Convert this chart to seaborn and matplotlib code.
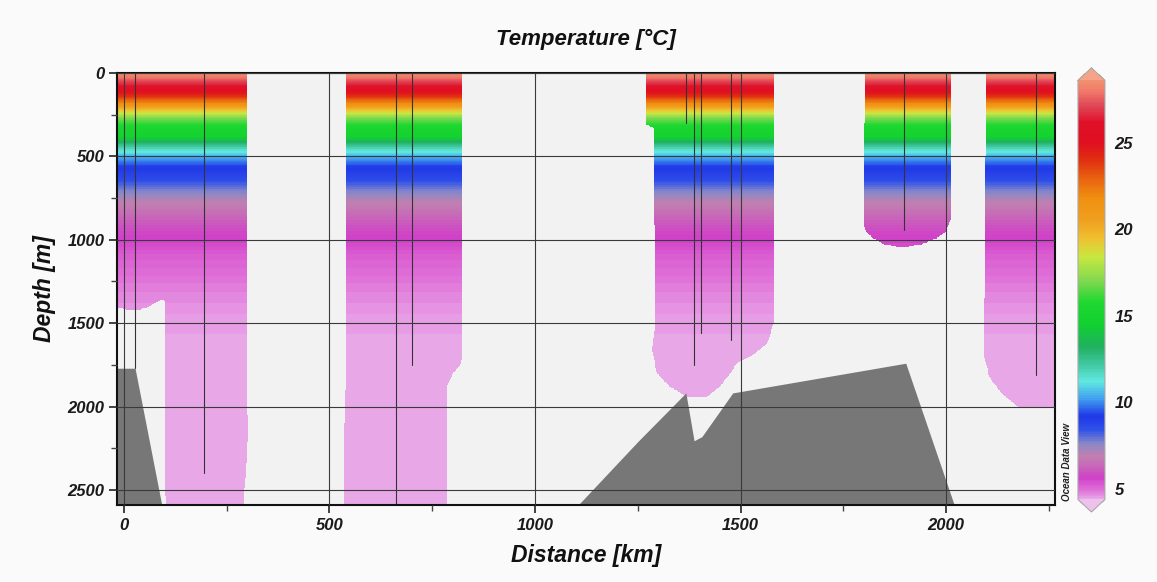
import numpy as np
import pandas as pd
import matplotlib
matplotlib.use("Agg")
import matplotlib.pyplot as plt
import seaborn as sns
from matplotlib.colors import LinearSegmentedColormap, Normalize
from matplotlib.path import Path

# ---------------- data ----------------
# mean temperature profile
profile_depth = [0, 25, 60, 100, 140, 180, 230, 270, 320, 380, 420, 460, 510,
                 560, 630, 700, 770, 850, 930, 1000, 1100, 1200, 1300, 1400,
                 1500, 2600]
profile_temp = [28.6, 28.0, 26.8, 25.5, 24.0, 22.0, 19.0, 17.0, 15.5, 14.8,
                13.0, 11.5, 10.3, 9.3, 8.7, 7.8, 7.0, 6.4, 5.9, 5.6, 5.2,
                5.0, 4.8, 4.65, 4.5, 4.4]

# data-coverage outlines of the gridded section (distance km, depth m)
block1_km = [-20, 299, 299, 301, 297, 290, 103, 100, 100, 95, 80, 60, 35, 15, -20]
block1_m = [0, 0, 1950, 2150, 2400, 2600, 2600, 2400, 1370, 1355, 1370, 1400, 1420, 1420, 1405]
block2_km = [540, 822, 822, 815, 800, 788, 786, 535, 536, 540]
block2_m = [0, 0, 1720, 1760, 1800, 1870, 2600, 2600, 2100, 1700]
block3_km = [1272, 1580, 1580, 1565, 1530, 1490, 1475, 1450, 1418, 1370, 1328,
             1297, 1285, 1292, 1288, 1272]
block3_m = [0, 0, 1500, 1620, 1690, 1740, 1800, 1880, 1940, 1940, 1880, 1800,
            1660, 1500, 330, 310]
block4_km = [1803, 2010, 2010, 2000, 1978, 1940, 1895, 1850, 1822, 1805, 1800]
block4_m = [0, 0, 880, 950, 990, 1030, 1045, 1030, 990, 950, 900]
block5_km = [2097, 2270, 2270, 2175, 2135, 2105, 2093, 2095]
block5_m = [0, 0, 2010, 2000, 1920, 1820, 1700, 1000]

# station casts
station_km = [27, 195, 662, 700, 1367, 1387, 1404, 1477, 1898, 2219]
station_bottom_m = [1770, 2400, 2590, 1750, 300, 1750, 1560, 1600, 940, 1810]

# bathymetry
bathy1_km = [-20, 27, 92]
bathy1_m = [1770, 1770, 2590]
bathy2_km = [1105, 1250, 1367, 1387, 1406, 1481, 1902, 2020]
bathy2_m = [2590, 2210, 1918, 2205, 2180, 1918, 1740, 2590]

# colour scale anchors
cmap_values = [4.4, 4.9, 5.6, 6.3, 6.9, 7.6, 8.4, 9.2, 10.2, 11.2, 12.2, 13.2,
               14.5, 15.8, 17.0, 18.4, 19.5, 20.5, 21.8, 23.0, 24.0, 25.0,
               26.2, 27.2, 28.0, 28.6]
cmap_colors = ['#e8a8e8', '#e070d8', '#d040c8', '#c868b8', '#c080b0', '#8888c8',
               '#3050e8', '#2038e8', '#40a0f0', '#60e8e0', '#40c8a0', '#20b060',
               '#10d030', '#20d830', '#80d850', '#c8e840', '#f0c030', '#f0a020',
               '#f09010', '#e86010', '#e03010', '#e01020', '#e01028', '#e04858',
               '#f07868', '#f09070']

x_ticks = [0, 500, 1000, 1500, 2000]
y_ticks = [0, 500, 1000, 1500, 2000, 2500]
cbar_ticks = [5, 10, 15, 20, 25]

# ---------------- style ----------------
sns.set_theme(style="white")
plt.rcParams["font.family"] = ["Liberation Sans", "DejaVu Sans"]
plt.rcParams["font.weight"] = "bold"
plt.rcParams["font.style"] = "italic"

vmin, vmax = cmap_values[0], cmap_values[-1]
pos = [(v - vmin) / (vmax - vmin) for v in cmap_values]
cmap = LinearSegmentedColormap.from_list("odv", list(zip(pos, cmap_colors)))
cmap.set_over("#f5a488")
cmap.set_under("#ecc2ec")
norm = Normalize(vmin=vmin, vmax=vmax)

fig = plt.figure(figsize=(11.57, 5.82), dpi=100, facecolor="#fafafa")
ax = fig.add_axes([0.1011, 0.1323, 0.8107, 0.7423])
ax.set_facecolor("#f2f2f2")

# ---------------- gridded field ----------------
xs = np.arange(-20, 2272, 2.0)
ds = np.arange(0, 2600, 4.0)
XX, DD = np.meshgrid(xs, ds)
T = np.interp(DD, profile_depth, profile_temp)
pts = np.column_stack([XX.ravel(), DD.ravel()])
inside = np.zeros(len(pts), dtype=bool)
for bk, bm in [(block1_km, block1_m), (block2_km, block2_m), (block3_km, block3_m),
               (block4_km, block4_m), (block5_km, block5_m)]:
    inside |= Path(np.column_stack([bk, bm])).contains_points(pts)
T = np.ma.masked_where(~inside.reshape(T.shape), T)
mesh = ax.pcolormesh(xs, ds, T, cmap=cmap, norm=norm, shading="nearest",
                     rasterized=True, zorder=1)

# ---------------- bathymetry ----------------
ax.fill_between(bathy1_km, bathy1_m, 2700, color="#777777", lw=0, zorder=1.5)
ax.fill_between(bathy2_km, bathy2_m, 2700, color="#777777", lw=0, zorder=1.5)

# ---------------- station casts ----------------
rows = []
for i, (k, b) in enumerate(zip(station_km, station_bottom_m)):
    rows.append({"station": i, "km": k, "depth": 0})
    rows.append({"station": i, "km": k, "depth": b})
casts = pd.DataFrame(rows)
sns.lineplot(data=casts, x="km", y="depth", units="station", estimator=None,
             color="#333333", lw=0.8, sort=False, ax=ax, zorder=2)

# ---------------- axes ----------------
ax.set_xlim(-17, 2265)
ax.set_ylim(2590, 0)
ax.set_xticks(x_ticks)
ax.set_xticks([250, 750, 1250, 1750, 2250], minor=True)
ax.set_yticks(y_ticks)
ax.set_yticks([250, 750, 1250, 1750, 2250], minor=True)
ax.set_xticklabels([str(t) for t in x_ticks], fontsize=12, fontweight="bold", style="italic")
ax.set_yticklabels([str(t) for t in y_ticks], fontsize=12, fontweight="bold", style="italic")
ax.tick_params(which="major", direction="out", length=6, width=1.2, color="#222222",
               bottom=True, left=True, pad=3, labelcolor="#1a1a1a")
ax.tick_params(which="minor", direction="out", length=4, width=1.0, color="#444444",
               bottom=True, left=True)
ax.grid(True, which="major", color="#3a3a3a", lw=0.8)
ax.set_axisbelow(False)
for s in ax.spines.values():
    s.set_color("#111111")
    s.set_linewidth(1.5)
ax.set_xlabel("Distance [km]", fontsize=16.5, fontweight="bold", style="italic",
              labelpad=8, color="#111111")
ax.set_ylabel("Depth [m]", fontsize=16.5, fontweight="bold", style="italic",
              labelpad=8, color="#111111")
ax.set_title("Temperature [°C]", fontsize=16, fontweight="bold", style="italic",
             pad=20, color="#111111")

# ---------------- colour bar ----------------
cax = fig.add_axes([0.9317, 0.1203, 0.0233, 0.763])
cb = fig.colorbar(mesh, cax=cax, extend="both", extendfrac=0.03, ticks=cbar_ticks)
cb.outline.set_edgecolor("#aaaaaa")
cb.outline.set_linewidth(0.8)
cax.tick_params(length=0, pad=7)
cax.set_yticklabels([str(t) for t in cbar_ticks], fontsize=12, fontweight="bold",
                    style="italic", color="#1a1a1a")

fig.text(1067 / 1157, 1 - 462 / 582, "Ocean Data View", rotation=90, fontsize=7,
         fontweight="bold", style="italic", ha="center", va="center", color="#222222")

fig.savefig("out.png", dpi=100, facecolor=fig.get_facecolor())
